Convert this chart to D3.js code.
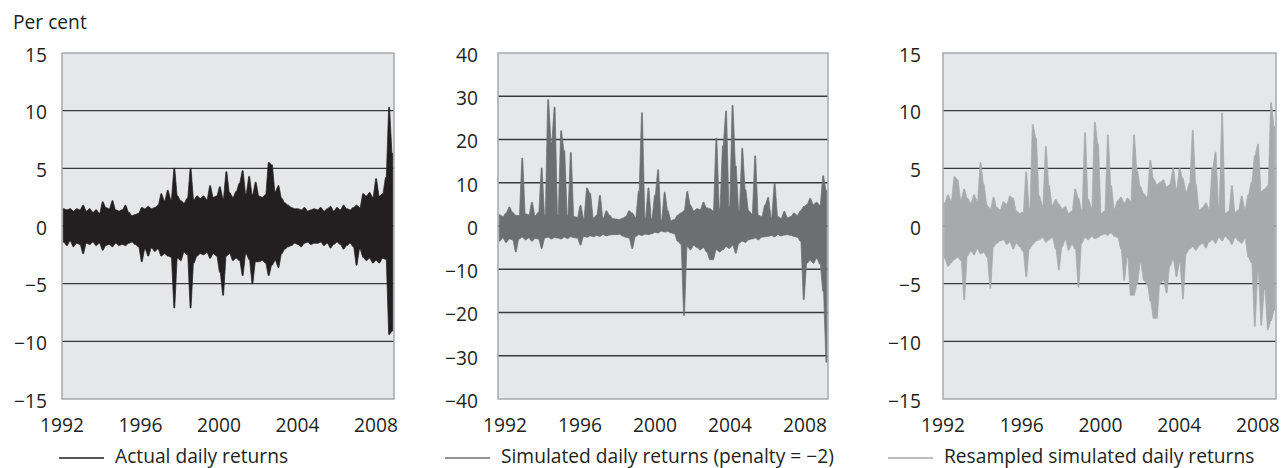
<!DOCTYPE html>
<html><head><meta charset="utf-8">
<script src="https://cdn.jsdelivr.net/npm/d3@7"></script>
<style>body{margin:0;background:#fff} svg{display:block} text{font-family:"Open Sans",sans-serif;fill:#231f20}</style>
</head><body><svg id="c" width="1282" height="468"></svg>
<script>
// Tick labels
const yearTicks = [1992, 1996, 2000, 2004, 2008];
const ticksA = [15, 10, 5, 0, -5, -10, -15];
const ticksB = [40, 30, 20, 10, 0, -10, -20, -30, -40];
const ticksC = [15, 10, 5, 0, -5, -10, -15];
const legendLabels = ["Actual daily returns", "Simulated daily returns (penalty = \u22122)", "Resampled simulated daily returns"];
const unitLabel = "Per cent";
// Two-month bins starting Jan 1992: highest and lowest daily return in each bin (per cent)
const actualHigh = [1.5,1.4,1.5,1.3,1.5,1.4, 1.8,1.3,1.5,1.2,1.4,1.1, 2.1,1.6,1.5,2.2,1.4,1.3, 1.4,1.8,1.2,0.9,1.0,1.1,
  1.6,1.5,1.7,1.5,1.6,1.8, 2.8,2.2,3.1,2.3,5.0,2.6, 2.2,2.0,2.4,5.0,2.3,2.6, 2.4,2.6,2.3,3.5,2.5,2.6,
  3.4,2.4,4.7,2.9,2.5,3.0, 3.7,4.8,2.8,4.3,2.7,3.8, 2.6,2.5,2.7,5.5,5.3,3.0, 3.5,2.4,2.0,1.8,1.6,1.5,
  1.5,1.4,1.6,1.3,1.4,1.5, 1.4,1.6,1.3,1.5,1.7,1.3, 1.6,1.4,1.8,1.5,1.4,1.6, 1.8,1.6,2.8,2.6,2.9,2.5,
  4.1,2.6,2.8,4.2,10.3,6.3];
const actualLow = [-1.4,-1.7,-1.3,-1.8,-1.5,-1.6, -2.4,-1.5,-1.6,-1.4,-1.7,-1.5, -2.1,-1.7,-1.6,-1.8,-1.5,-1.7, -1.6,-1.7,-1.5,-1.4,-1.6,-1.8,
  -3.1,-2.0,-2.6,-1.9,-2.2,-2.0, -2.6,-2.4,-2.6,-2.7,-7.1,-2.8, -3.0,-2.3,-2.5,-7.1,-3.2,-2.6, -2.4,-2.5,-2.3,-2.8,-2.4,-2.6,
  -4.0,-6.0,-2.6,-2.4,-3.0,-2.8, -3.0,-4.3,-2.4,-2.9,-5.0,-3.1, -3.1,-3.0,-3.2,-4.3,-3.4,-3.0, -3.6,-2.4,-2.0,-1.8,-1.7,-1.5,
  -1.6,-1.8,-1.5,-1.4,-1.6,-1.5, -1.5,-1.4,-1.7,-1.5,-1.9,-1.6, -1.4,-1.6,-2.0,-1.7,-1.5,-1.8, -3.4,-2.0,-2.7,-3.0,-2.8,-3.2,
  -3.0,-3.2,-2.8,-2.9,-9.4,-9.1];
const simHigh = [2.6,2.2,3.0,4.4,3.2,2.5, 2.4,15.7,2.8,2.6,5.5,2.4, 3.2,13.4,2.5,29.2,19.3,27.5, 2.6,22.0,17.4,2.4,17.0,2.2,
  2.0,4.8,1.8,8.8,7.5,1.9, 2.5,7.1,1.8,3.5,2.5,1.7, 1.6,1.5,1.8,2.2,3.5,3.0, 2.0,8.0,26.2,1.8,8.8,1.6,
  7.1,13.0,1.3,7.8,3.5,1.3, 1.5,2.5,3.0,3.5,8.0,4.8, 3.5,4.0,3.8,5.5,4.2,4.0, 3.5,20.3,4.0,18.5,26.6,4.5,
  27.9,13.9,3.5,18.0,8.4,3.5, 2.8,16.2,2.5,2.2,4.8,6.6, 2.0,9.9,2.2,1.8,3.4,1.9, 2.2,3.0,2.5,3.5,4.5,5.0,
  6.4,5.0,5.5,4.8,11.6,8.2];
const simLow = [-3.5,-2.8,-3.8,-3.0,-3.2,-6.0, -3.0,-2.6,-3.2,-2.8,-3.5,-2.9, -3.0,-5.2,-2.8,-2.6,-3.0,-2.7, -2.8,-3.0,-2.6,-2.9,-2.5,-2.7,
  -2.8,-4.4,-2.4,-2.6,-2.3,-2.5, -2.2,-2.4,-2.0,-2.3,-2.1,-2.0, -2.0,-1.9,-2.3,-2.6,-2.8,-5.2, -2.5,-2.0,-2.2,-1.9,-2.0,-1.8,
  -1.5,-1.6,-1.2,-1.4,-1.3,-1.6, -1.8,-3.5,-4.2,-20.7,-4.8,-5.5, -4.5,-5.0,-5.5,-5.0,-6.0,-7.8, -7.8,-5.5,-6.0,-5.5,-4.8,-5.2,
  -4.5,-6.3,-4.0,-3.5,-3.8,-3.2, -3.0,-2.8,-3.2,-2.6,-2.5,-2.4, -2.2,-2.5,-2.0,-2.3,-2.1,-2.0, -2.2,-2.4,-2.6,-3.5,-17.0,-8.6,
  -8.0,-8.6,-7.5,-8.8,-15.1,-31.5];
const resampHigh = [2.0,2.7,2.2,4.3,4.0,2.3, 3.2,2.4,2.0,2.7,2.2,5.5, 3.6,1.8,1.5,2.5,1.6,1.4, 2.1,1.9,2.6,2.4,1.3,1.1,
  1.2,4.7,1.5,8.8,7.6,2.6, 1.8,6.9,3.5,1.8,2.3,1.9, 1.5,1.7,1.1,1.3,3.2,2.4, 1.4,8.1,2.3,1.6,9.0,7.1,
  1.1,1.3,7.9,3.5,1.5,2.2, 2.5,2.0,2.4,2.2,7.9,4.8, 3.4,2.8,2.5,5.7,4.1,3.6, 3.8,4.0,3.4,3.6,5.0,3.2,
  5.0,4.1,3.0,3.7,8.3,3.6, 1.4,1.6,2.0,1.5,5.0,6.4, 1.8,9.8,1.1,1.3,3.5,1.2, 1.4,2.6,1.5,2.7,3.8,6.1,
  7.1,3.0,3.2,3.5,10.7,8.6];
const resampLow = [-2.8,-3.5,-3.2,-2.9,-2.7,-3.0, -6.4,-2.6,-2.2,-2.5,-2.0,-2.4, -2.3,-2.7,-5.4,-1.8,-1.5,-1.3, -1.2,-1.6,-1.4,-2.0,-1.5,-1.8,
  -2.2,-4.4,-2.0,-1.6,-1.3,-1.2, -1.0,-1.4,-1.2,-1.0,-2.0,-3.8, -1.8,-1.2,-2.1,-1.6,-2.0,-5.3, -1.5,-1.0,-1.2,-0.9,-1.1,-1.0,
  -0.8,-0.7,-0.8,-0.6,-0.9,-1.0, -2.0,-4.7,-2.7,-6.0,-6.0,-5.0, -3.2,-4.7,-5.0,-6.5,-8.0,-8.0, -5.0,-4.7,-5.8,-3.5,-2.9,-4.4,
  -3.2,-6.3,-2.4,-2.0,-1.8,-2.1, -1.7,-1.5,-1.9,-1.4,-1.2,-1.5, -1.0,-1.3,-0.9,-1.2,-1.6,-1.0, -1.3,-1.5,-1.1,-2.7,-3.2,-8.7,
  -4.0,-8.6,-5.5,-9.0,-8.2,-7.3];

const panels = [
  {high: actualHigh, low: actualLow, color: "#231f20", yTicks: ticksA, left: 62, right: 394, labelX: 47,
   tickDomain: [1992, 2008.92], legend: legendLabels[0], legendX: 59},
  {high: simHigh, low: simLow, color: "#6d6e71", yTicks: ticksB, left: 498, right: 828, labelX: 478,
   tickDomain: [1991.63, 2009.23], legend: legendLabels[1], legendX: 445},
  {high: resampHigh, low: resampLow, color: "#a7a9ac", yTicks: ticksC, left: 943, right: 1276, labelX: 921,
   tickDomain: [1992, 2008.92], legend: legendLabels[2], legendX: 888}
];
const plotTop = 53, plotBottom = 399, fs = 19.2;
const svg = d3.select("#c");
const fmt = v => v < 0 ? "\u2212" + Math.abs(v) : String(v);

svg.append("text").attr("x", 13).attr("y", 28.5).attr("font-size", fs).text(unitLabel);

panels.forEach((p, pi) => {
  const g = svg.append("g");
  const ext = d3.extent(p.yTicks);
  const y = d3.scaleLinear().domain(ext).range([plotBottom, plotTop]);
  const n = p.high.length;
  const xData = d3.scaleLinear().domain([1992, 1992 + n / 6]).range([p.left, p.right]);
  const xTick = d3.scaleLinear().domain(p.tickDomain).range([p.left, p.right]);
  g.append("rect").attr("x", p.left).attr("y", plotTop).attr("width", p.right - p.left).attr("height", plotBottom - plotTop)
    .attr("fill", "#e6e7e8");
  g.selectAll("line.grid").data(p.yTicks.filter(v => v !== ext[0] && v !== ext[1])).join("line")
    .attr("x1", p.left).attr("x2", p.right).attr("y1", d => y(d)).attr("y2", d => y(d))
    .attr("stroke", "#3a3a3c").attr("stroke-width", 1.3);
  // each two-month bin spans [t, t+1/6]; its range is held over the centre of the bin
  const pts = [];
  p.high.forEach((h, i) => {
    const t = 1992 + i / 6;
    pts.push({t: t + 1.45 / 24, hi: h, lo: p.low[i]});
    pts.push({t: t + 2.55 / 24, hi: h, lo: p.low[i]});
  });
  const area = d3.area().x(d => xData(d.t)).y0(d => y(d.lo)).y1(d => y(d.hi));
  g.append("path").attr("d", area(pts)).attr("fill", p.color).attr("stroke", p.color).attr("stroke-width", 0.7)
    .attr("stroke-linejoin", "miter").attr("stroke-miterlimit", 3);
  g.append("rect").attr("x", p.left).attr("y", plotTop).attr("width", p.right - p.left).attr("height", plotBottom - plotTop)
    .attr("fill", "none").attr("stroke", "#a7a9ac").attr("stroke-width", 1.5);
  g.selectAll("text.y").data(p.yTicks).join("text")
    .attr("x", p.labelX).attr("y", d => y(d) + 8.8).attr("text-anchor", "end").attr("font-size", fs).text(fmt);
  g.selectAll("text.x").data(yearTicks).join("text")
    .attr("x", d => xTick(d)).attr("y", 431.5).attr("text-anchor", "middle").attr("font-size", fs).text(d => d);
  g.append("line").attr("x1", p.legendX).attr("x2", p.legendX + 45).attr("y1", 458).attr("y2", 458)
    .attr("stroke", p.color).attr("stroke-width", 1.5);
  g.append("text").attr("x", p.legendX + 56).attr("y", 463).attr("font-size", fs).text(p.legend);
});
</script></body></html>
